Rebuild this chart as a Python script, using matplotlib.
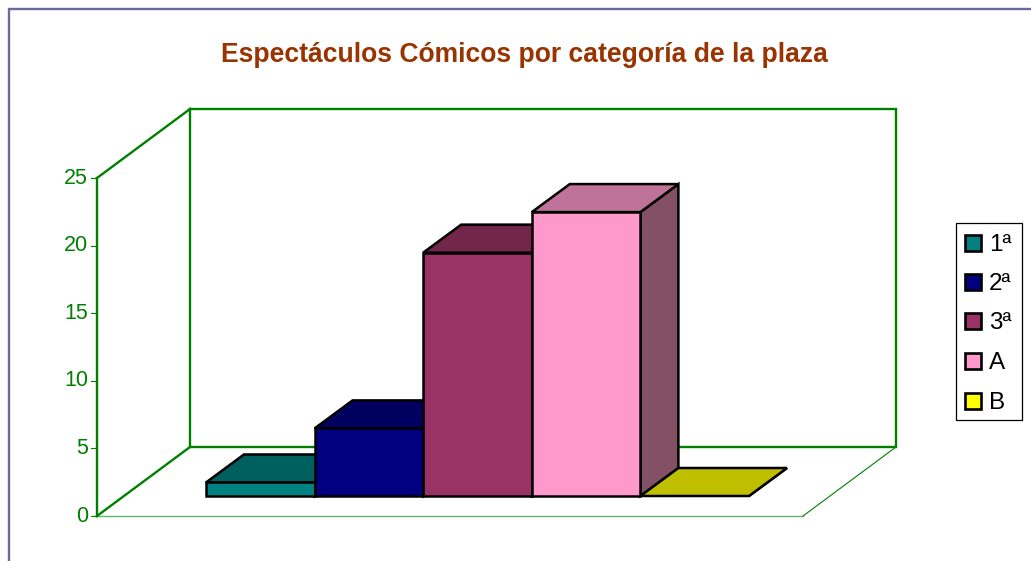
import numpy as np
import matplotlib
matplotlib.use("Agg")
import matplotlib.pyplot as plt
from matplotlib.patches import Polygon, Rectangle

plt.rcParams["font.family"] = ["Liberation Sans", "DejaVu Sans"]

# values
categories = ["1ª", "2ª", "3ª", "A", "B"]
values = [1, 5, 18, 21, 0]
y_ticks = [0, 5, 10, 15, 20, 25]
front_colors = ["#008080", "#000080", "#993366", "#ff99cc", "#ffff00"]
top_colors = ["#006060", "#000060", "#732649", "#bf7399", "#bfbf00"]
side_colors = ["#004d4d", "#00004d", "#5c1f3d", "#845066", "#999900"]
title = "Espectáculos Cómicos por categoría de la plaza"

GREEN = "#008000"
x0, y0 = 97, 516          # front corner of the floor
unit = 338 / 25           # pixels per value
wall_dx, wall_dy = 93, -69
floor_w = 706
bar_x0, bar_w = 206, 108.6
bar_base = 496
depth_dx, depth_dy = 38, -28


def vy(v):
    return y0 - v * unit


fig = plt.figure(figsize=(10.31, 5.61), dpi=100)
ax = fig.add_axes([0, 0, 1, 1])
ax.set_xlim(0, 1031)
ax.set_ylim(561, 0)
ax.axis("off")

# page frame
ax.plot([8.5, 8.5, 1031], [561, 9, 9], color="#6a6a9f", lw=1.7, solid_joinstyle="miter")

# walls and floor
top = vy(y_ticks[-1])
ax.plot([x0, x0], [y0, top], color=GREEN, lw=1.7)
ax.plot([x0, x0 + wall_dx], [top, top + wall_dy], color=GREEN, lw=1.7)
ax.plot([x0, x0 + wall_dx], [y0, y0 + wall_dy], color=GREEN, lw=1.7)
ax.plot([x0 + wall_dx, x0 + wall_dx], [y0 + wall_dy, top + wall_dy], color=GREEN, lw=1.7)
ax.plot([x0 + wall_dx, x0 + wall_dx + floor_w, x0 + wall_dx + floor_w, x0 + wall_dx],
        [top + wall_dy, top + wall_dy, y0 + wall_dy, y0 + wall_dy],
        color=GREEN, lw=1.7, solid_joinstyle="miter")
ax.plot([x0, x0 + floor_w], [y0, y0], color=GREEN, lw=1.0, alpha=0.6)
ax.plot([x0 + floor_w, x0 + floor_w + wall_dx], [y0, y0 + wall_dy], color=GREEN, lw=0.8)

for t in y_ticks:
    ax.plot([x0 - 6, x0], [vy(t), vy(t)], color=GREEN, lw=0.8)
    ax.text(x0 - 9, vy(t), str(t), color=GREEN, fontsize=15.5, ha="right", va="center")

# bars
for i, v in enumerate(values):
    xl = bar_x0 + i * bar_w
    xr = xl + bar_w
    h = bar_base - v * unit
    z = 3 + i
    ec = dict(edgecolor="black", lw=1.8, joinstyle="miter", zorder=z)
    ax.add_patch(Polygon([(xr, bar_base), (xr + depth_dx, bar_base + depth_dy),
                          (xr + depth_dx, h + depth_dy), (xr, h)],
                         facecolor=side_colors[i], **ec))
    ax.add_patch(Polygon([(xl, h), (xl + depth_dx, h + depth_dy),
                          (xr + depth_dx, h + depth_dy), (xr, h)],
                         facecolor=top_colors[i], **ec))
    if v > 0:
        ax.add_patch(Rectangle((xl, h), bar_w, v * unit, facecolor=front_colors[i], **ec))

ax.text(524.5, 55, title, color="#993300", fontsize=19.1, fontweight="bold", ha="center", va="center")

# legend
ax.add_patch(Rectangle((956, 223), 66, 197, facecolor="white", edgecolor="black", lw=0.9, zorder=10))
legend_y = [243, 282, 321, 361, 401]
for name, col, ly in zip(categories, front_colors, legend_y):
    ax.add_patch(Rectangle((965, ly - 8), 16, 16, facecolor=col, edgecolor="black", lw=1.9, zorder=11))
    ax.text(989, ly + 2, name, color="black", fontsize=17.5, ha="left", va="center", zorder=11)

fig.savefig("out.png", dpi=100)
